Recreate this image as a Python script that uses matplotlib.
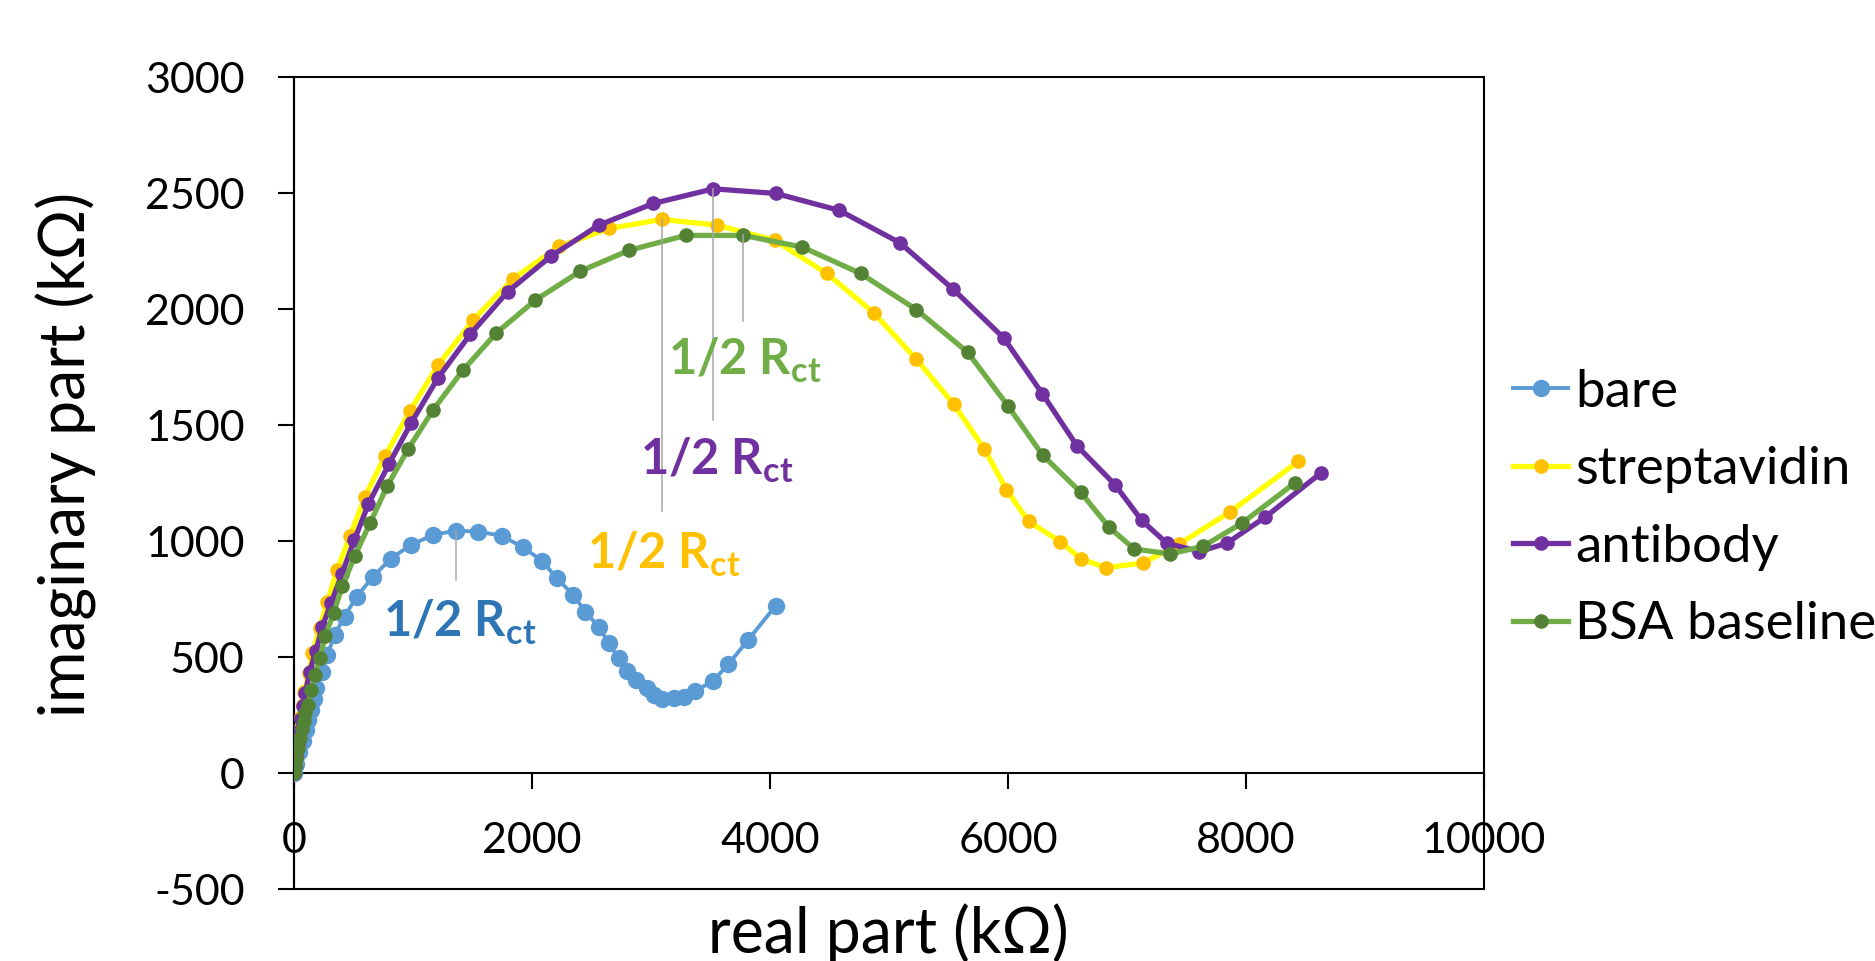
import numpy as np
import matplotlib
matplotlib.use('Agg')
import matplotlib.pyplot as plt
from matplotlib.patches import Rectangle

# Data (kOhm)
bare_re = [0, 20, 45, 75, 100, 118, 143, 165, 185, 236, 281, 341, 425, 527,
           665, 812, 983, 1172, 1361, 1550, 1745, 1925, 2085, 2208, 2346,
           2448, 2562, 2646, 2727, 2802, 2877, 2967, 3027, 3096, 3192, 3276,
           3372, 3522, 3651, 3816, 4047]
bare_im = [0, 40, 90, 140, 185, 230, 272, 320, 365, 437, 509, 596, 675, 761,
           847, 924, 984, 1027, 1045, 1041, 1023, 973, 915, 840, 768,
           696, 629, 560, 495, 442, 401, 365, 337, 319, 322, 329,
           354, 397, 470, 574, 721]

strep_re = [0, 8, 18, 30, 45, 60, 72, 86, 125, 155, 215, 281, 362, 470, 597,
            766, 975, 1209, 1508, 1843, 2229, 2647, 3091, 3557, 4039, 4475,
            4870, 5228, 5543, 5801, 5986, 6172, 6440, 6617, 6825, 7131, 7437,
            7861, 8440]
strep_im = [0, 35, 80, 130, 185, 240, 295, 351, 430, 516, 624, 739, 876, 1020,
            1192, 1368, 1562, 1758, 1955, 2132, 2271, 2348, 2387, 2362, 2297,
            2155, 1985, 1785, 1591, 1398, 1222, 1085, 998, 922, 886, 905, 987,
            1124, 1344]

anti_re = [0, 8, 18, 30, 45, 60, 75, 95, 131, 185, 236, 311, 401, 506, 626,
           798, 984, 1209, 1483, 1795, 2158, 2560, 3020, 3525, 4049, 4582,
           5092, 5541, 5964, 6289, 6579, 6899, 7124, 7334, 7607, 7839, 8160,
           8627]
anti_im = [0, 30, 75, 125, 180, 235, 290, 344, 437, 528, 629, 732, 857, 1003,
           1161, 1332, 1509, 1703, 1893, 2075, 2228, 2362, 2456, 2519, 2499,
           2426, 2286, 2085, 1876, 1635, 1411, 1243, 1089, 991, 955, 991, 1103,
           1293]

bsa_re = [0, 10, 20, 35, 50, 65, 80, 95, 116, 146, 176, 215, 263, 332, 407,
          512, 641, 782, 959, 1171, 1418, 1701, 2029, 2406, 2817, 3290, 3776,
          4270, 4761, 5230, 5661, 5998, 6290, 6612, 6848, 7061, 7363, 7636,
          7967, 8408]
bsa_im = [0, 30, 65, 110, 150, 190, 225, 260, 293, 358, 423, 495, 591, 689,
          807, 937, 1080, 1236, 1397, 1567, 1736, 1898, 2039, 2164, 2254, 2318,
          2318, 2268, 2154, 1998, 1814, 1584, 1371, 1210, 1060, 966, 945, 977,
          1078, 1250]

labels = ['bare', 'streptavidin', 'antibody', 'BSA baseline']

# index of the point marked as 1/2 Rct, and where its leader line stops
half_idx = [18, 22, 23, 26]
leader_end = [833, 1132, 1524, 1948]
# label baseline positions (data units)
label_pos = [(745, 588), (2462, 879), (2904, 1286), (3142, 1718)]

# Styles
line_cols = ['#5B9BD5', '#FFFF00', '#7030A0', '#70AD47']
mark_cols = ['#5B9BD5', '#FFC000', '#7030A0', '#548235']
text_cols = ['#2E75B6', '#FFC000', '#7030A0', '#70AD47']
lws = [2.8, 3.8, 3.8, 3.8]
mss = [11.5, 9.5, 9.5, 9.5]

plt.rcParams['font.family'] = ['Lato', 'DejaVu Sans']
plt.rcParams['axes.unicode_minus'] = False
plt.rcParams['mathtext.fontset'] = 'custom'
plt.rcParams['mathtext.rm'] = 'Lato'
plt.rcParams['mathtext.bf'] = 'Lato:bold'

fig = plt.figure(figsize=(18.75, 9.61), dpi=100)
ax = fig.add_axes([0.1568, 0.0749, 0.6347, 0.8447])

series = [(bare_re, bare_im), (strep_re, strep_im),
          (anti_re, anti_im), (bsa_re, bsa_im)]
for i, (xr, yi) in enumerate(series):
    ax.plot(xr, yi, '-o', color=line_cols[i], lw=lws[i], ms=mss[i],
            mfc=mark_cols[i], mec=mark_cols[i], label=labels[i], zorder=3 + i)

# leader lines + labels
for i, (xr, yi) in enumerate(series):
    k = half_idx[i]
    ax.plot([xr[k], xr[k]], [yi[k], leader_end[i]], color='#A6A6A6',
            lw=1.1, zorder=10)
    ax.text(label_pos[i][0], label_pos[i][1], r'1/2 R$_{\mathbf{ct}}$',
            color=text_cols[i], fontsize=35, fontweight='bold',
            ha='left', va='baseline', zorder=11)

ax.set_xlim(0, 10000)
ax.set_ylim(-500, 3000)
ax.set_xticks(np.arange(0, 10001, 2000))
ax.set_yticks(np.arange(-500, 3001, 500))

ax.spines['bottom'].set_position(('data', 0))
ax.spines['top'].set_visible(False)
ax.spines['right'].set_visible(False)
for s in ['left', 'bottom']:
    ax.spines[s].set_linewidth(1.5)
ax.add_patch(Rectangle((0, 0), 1, 1, transform=ax.transAxes, fill=False,
                       edgecolor='black', lw=1.5, clip_on=False, zorder=2))

ax.tick_params(axis='both', direction='out', length=11.5, width=1.5,
               labelsize=31, pad=24, colors='black')

fig.text(0.0352, 0.5276, 'imaginary part (k\u03a9)', rotation=90,
         ha='center', va='center', fontsize=45)
fig.text(0.4736, 0.029, 'real part (k\u03a9)', ha='center', va='center',
         fontsize=45)

fig.legend(loc='center left', bbox_to_anchor=(1513 / 1875, 0.4709),
           frameon=False, fontsize=38, handlelength=1.05, handletextpad=0.13,
           labelspacing=0.58, borderpad=0, borderaxespad=0)

fig.savefig('out.png', dpi=100)
